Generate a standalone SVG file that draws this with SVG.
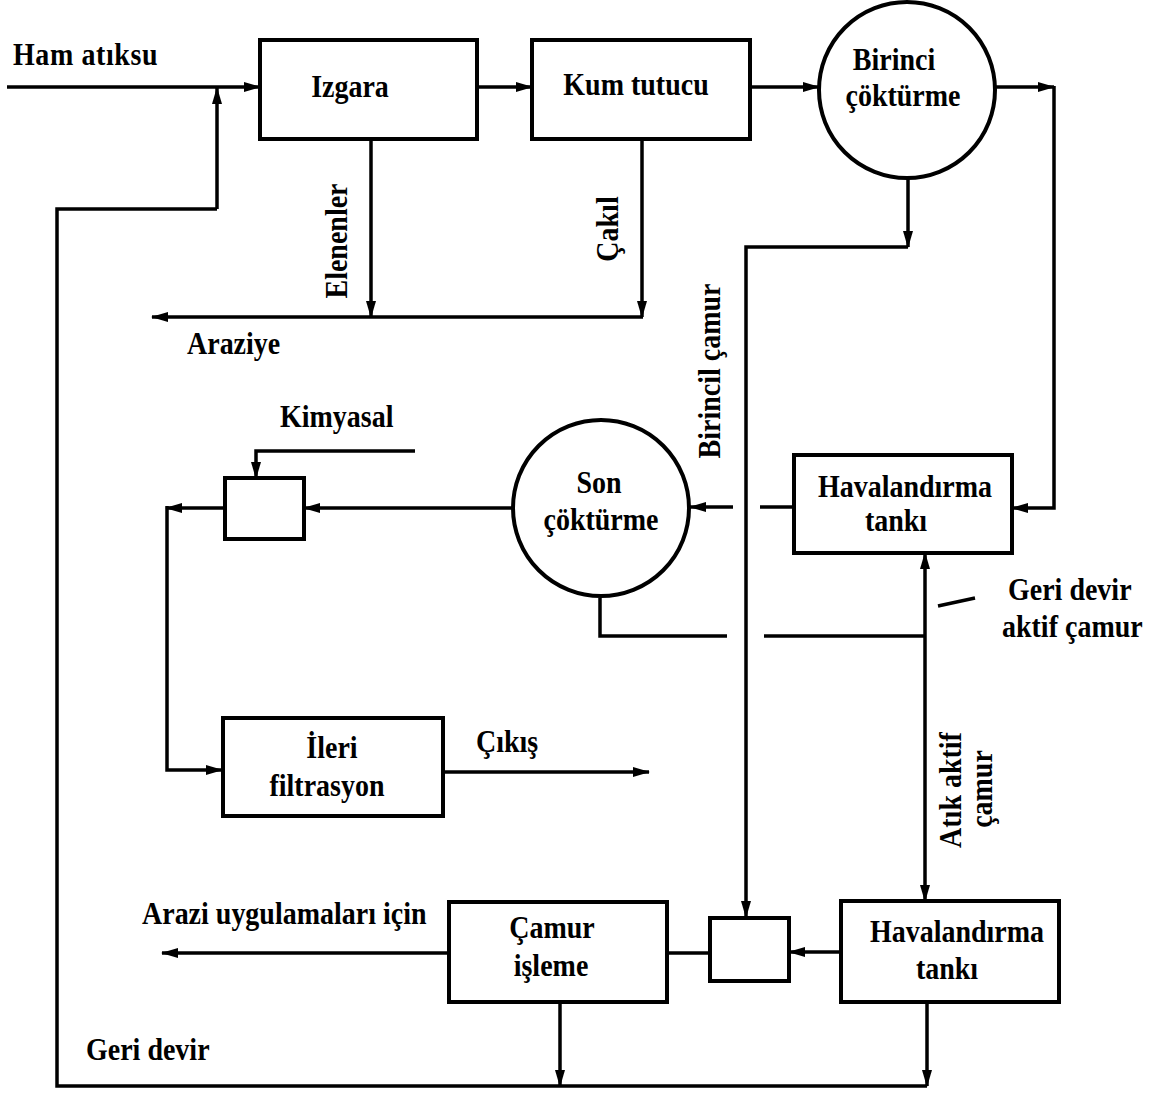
<svg xmlns="http://www.w3.org/2000/svg" width="1159" height="1093" viewBox="0 0 1159 1093">
<style>
.t{font-family:"Liberation Serif","Times New Roman",serif;font-weight:bold;font-size:28px;fill:#000}
.m{text-anchor:middle}
.box{fill:#fff;stroke:#000;stroke-width:4}
.c{fill:none;stroke:#000;stroke-width:3.5}
.a{marker-end:url(#ah)}
</style>
<defs>
<marker id="ah" markerWidth="17" markerHeight="11" refX="16" refY="5.5" orient="auto" markerUnits="userSpaceOnUse"><path d="M0,0.5 L17,5.5 L0,10.5 z" fill="#000"/></marker>
</defs>
<rect width="1159" height="1093" fill="#fff"/>
<g id="connectors">
<path class="c a" d="M7,87 H260"/>
<path class="c a" d="M477,87 H532"/>
<path class="c a" d="M750,87 H819"/>
<path class="c a" d="M996,87 H1054"/>
<path class="c a" d="M1054,86 V508 H1012"/>
<path class="c a" d="M908,178 V247"/>
<path class="c a" d="M908,247 H746 V917"/>
<path class="c a" d="M371,140 V317"/>
<path class="c a" d="M642,140 V317"/>
<path class="c a" d="M643,317 H152"/>
<path class="c a" d="M217,209 V88"/>
<path class="c" d="M217,209 H57 V1086 H927"/>
<path class="c a" d="M927,1003 V1086"/>
<path class="c a" d="M560,1003 V1086"/>
<path class="c" d="M794,507 H760"/>
<path class="c a" d="M733,507 H690"/>
<path class="c a" d="M513,508 H304"/>
<path class="c a" d="M225,508 H166"/>
<path class="c a" d="M167,506 V770 H222"/>
<path class="c a" d="M415,451 H256 V478"/>
<path class="c a" d="M443,772 H649"/>
<path class="c" d="M600,598 V636 H727"/>
<path class="c" d="M764,636 H925"/>
<path class="c a" d="M925,636 V553"/>
<path class="c a" d="M925,636 V901"/>
<path class="c" d="M938,606 L975,598" stroke-width="3"/>
<path class="c a" d="M841,952 H789"/>
<path class="c" d="M710,953 H667"/>
<path class="c a" d="M449,953 H162"/>
</g>
<g id="izgara"><rect class="box" x="260" y="40" width="217" height="99"/><text class="t m" transform="translate(350,97) scale(1,1.15)">Izgara</text></g>
<g id="kum-tutucu"><rect class="box" x="532" y="40" width="218" height="99"/><text class="t m" transform="translate(636,95) scale(1,1.15)">Kum tutucu</text></g>
<g id="birinci-cokturme"><circle class="box" cx="907" cy="90" r="88" stroke-width="3"/><text class="t m" transform="translate(894,70) scale(1,1.15)">Birinci</text><text class="t m" transform="translate(903,106) scale(1,1.15)">çöktürme</text></g>
<g id="son-cokturme"><circle class="box" cx="601" cy="508" r="88" stroke-width="3"/><text class="t m" transform="translate(599,493) scale(1,1.15)">Son</text><text class="t m" transform="translate(601,530) scale(1,1.15)">çöktürme</text></g>
<g id="havalandirma-1"><rect class="box" x="794" y="455" width="218" height="98"/><text class="t m" transform="translate(905,497) scale(1,1.15)">Havalandırma</text><text class="t m" transform="translate(896,531) scale(1,1.15)">tankı</text></g>
<g id="kimyasal-kutu"><rect class="box" x="225" y="478" width="79" height="61"/></g>
<g id="ileri-filtrasyon"><rect class="box" x="223" y="718" width="220" height="98"/><text class="t m" transform="translate(332,758) scale(1,1.15)">İleri</text><text class="t m" transform="translate(327,796) scale(1,1.15)">filtrasyon</text></g>
<g id="camur-isleme"><rect class="box" x="449" y="902" width="218" height="100"/><text class="t m" transform="translate(552,938) scale(1,1.15)">Çamur</text><text class="t m" transform="translate(551,976) scale(1,1.15)">işleme</text></g>
<g id="karisim-kutu"><rect class="box" x="710" y="918" width="79" height="63"/></g>
<g id="havalandirma-2"><rect class="box" x="841" y="901" width="218" height="101"/><text class="t m" transform="translate(957,942) scale(1,1.15)">Havalandırma</text><text class="t m" transform="translate(947,979) scale(1,1.15)">tankı</text></g>
<g id="labels">
<text class="t" transform="translate(13,65) scale(1,1.15)" letter-spacing="0.6">Ham atıksu</text>
<text class="t" transform="translate(187,354) scale(1,1.15)">Araziye</text>
<text class="t m" transform="translate(347,241) rotate(-90) scale(1,1.15)">Elenenler</text>
<text class="t m" transform="translate(618,229) rotate(-90) scale(1,1.15)">Çakıl</text>
<text class="t m" transform="translate(720,371) rotate(-90) scale(1,1.15)">Birincil çamur</text>
<text class="t" transform="translate(280,427) scale(1,1.15)">Kimyasal</text>
<text class="t" transform="translate(1008,600) scale(1,1.15)">Geri devir</text>
<text class="t" transform="translate(1002,637) scale(1,1.15)">aktif çamur</text>
<text class="t m" transform="translate(961,790) rotate(-90) scale(1,1.15)">Atık aktif</text>
<text class="t m" transform="translate(992,789) rotate(-90) scale(1,1.15)">çamur</text>
<text class="t" transform="translate(476,752) scale(1,1.15)">Çıkış</text>
<text class="t" transform="translate(142,924) scale(1,1.15)">Arazi uygulamaları için</text>
<text class="t" transform="translate(86,1060) scale(1,1.15)">Geri devir</text>
</g>
</svg>
